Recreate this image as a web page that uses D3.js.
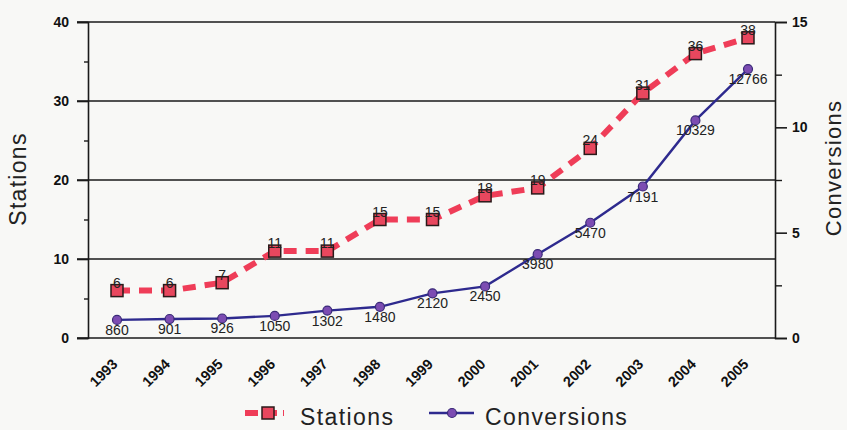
<!DOCTYPE html>
<html>
<head>
<meta charset="utf-8">
<script src="https://cdn.jsdelivr.net/npm/d3@7"></script>
<style>
  html, body { margin: 0; padding: 0; background: #f8f8f6; }
  svg { display: block; font-family: "Liberation Sans", Arial, sans-serif; }
</style>
</head>
<body>
<svg id="chart" width="847" height="430"></svg>
<script>
// Years on the category axis
const years = ["1993","1994","1995","1996","1997","1998","1999","2000","2001","2002","2003","2004","2005"];
// Number of stations per year (left axis)
const stations = [6, 6, 7, 11, 11, 15, 15, 18, 19, 24, 31, 36, 38];
// Number of conversions per year (right axis, shown in thousands)
const conversions = [860, 901, 926, 1050, 1302, 1480, 2120, 2450, 3980, 5470, 7191, 10329, 12766];
// Axis ticks
const leftTicks = [0, 10, 20, 30, 40];
const leftMinor = [5, 15, 25, 35];
const rightTicks = [0, 5, 10, 15];
const rightMinor = [2.5, 7.5, 12.5];

const svg = d3.select("#chart");
const plotLeft = 88, plotRight = 775, plotTop = 22, plotBottom = 338;

const x = d3.scalePoint().domain(years).range([117, 748]);
const yL = d3.scaleLinear().domain([0, 40]).range([plotBottom, plotTop]);
const yR = d3.scaleLinear().domain([0, 15]).range([plotBottom, plotTop]);

// Horizontal gridlines on the stations scale
svg.append("g").selectAll("line")
  .data(leftTicks)
  .join("line")
  .attr("x1", plotLeft - 11).attr("x2", plotRight)
  .attr("y1", d => yL(d)).attr("y2", d => yL(d))
  .attr("stroke", "#1a1a1a").attr("stroke-width", 1.6);

// Left axis
const gL = svg.append("g").attr("transform", `translate(${plotLeft},0)`);
gL.call(d3.axisLeft(yL).tickValues(leftTicks).tickSize(11).tickPadding(8))
  .call(g => g.select(".domain").attr("stroke", "#1a1a1a").attr("stroke-width", 1.6))
  .call(g => g.selectAll(".tick line").attr("stroke", "#1a1a1a").attr("stroke-width", 1.6))
  .call(g => g.selectAll("text").attr("font-size", 14).attr("font-weight", "bold").attr("fill", "#111")
    .attr("font-family", "'Liberation Sans', Arial, sans-serif"));
svg.append("g").attr("transform", `translate(${plotLeft},0)`)
  .call(d3.axisLeft(yL).tickValues(leftMinor).tickSize(4).tickFormat(""))
  .call(g => g.select(".domain").remove())
  .call(g => g.selectAll(".tick line").attr("stroke", "#1a1a1a").attr("stroke-width", 1.4));

// Right axis
const gR = svg.append("g").attr("transform", `translate(${plotRight},0)`);
gR.call(d3.axisRight(yR).tickValues(rightTicks).tickSize(12).tickPadding(5))
  .call(g => g.select(".domain").attr("stroke", "#1a1a1a").attr("stroke-width", 1.6))
  .call(g => g.selectAll(".tick line").attr("stroke", "#1a1a1a").attr("stroke-width", 1.6))
  .call(g => g.selectAll("text").attr("font-size", 14).attr("font-weight", "bold").attr("fill", "#111")
    .attr("font-family", "'Liberation Sans', Arial, sans-serif"));
svg.append("g").attr("transform", `translate(${plotRight},0)`)
  .call(d3.axisRight(yR).tickValues(rightMinor).tickSize(7).tickFormat(""))
  .call(g => g.select(".domain").remove())
  .call(g => g.selectAll(".tick line").attr("stroke", "#1a1a1a").attr("stroke-width", 1.4));

// Rotated year labels
const gX = svg.append("g").attr("transform", `translate(0,${plotBottom})`);
gX.call(d3.axisBottom(x).tickSize(0).tickPadding(0))
  .call(g => g.select(".domain").remove())
  .call(g => g.selectAll("text")
    .attr("font-size", 14.5).attr("font-weight", "bold").attr("fill", "#111")
    .attr("font-family", "'Liberation Sans', Arial, sans-serif")
    .attr("text-anchor", "end").attr("dy", null).attr("y", 0)
    .attr("transform", "translate(1,27) rotate(-45)"));

// Axis titles
svg.append("text")
  .attr("transform", "translate(26,179) rotate(-90)")
  .attr("text-anchor", "middle")
  .attr("font-size", 23).attr("letter-spacing", 1.3).attr("fill", "#222")
  .text("Stations");
svg.append("text")
  .attr("transform", "translate(841,168) rotate(-90)")
  .attr("text-anchor", "middle")
  .attr("font-size", 22).attr("letter-spacing", 1.3).attr("fill", "#222")
  .text("Conversions");

// Conversions series (thousands on the right scale)
const convLine = d3.line()
  .x((d, i) => x(years[i]))
  .y(d => yR(d / 1000));
svg.append("path")
  .datum(conversions)
  .attr("d", convLine)
  .attr("fill", "none").attr("stroke", "#2e2a8e").attr("stroke-width", 2.4);
svg.append("g").selectAll("circle")
  .data(conversions)
  .join("circle")
  .attr("cx", (d, i) => x(years[i]))
  .attr("cy", d => yR(d / 1000))
  .attr("r", 4.5)
  .attr("fill", "#7c4cb2").attr("stroke", "#3a2a78").attr("stroke-width", 1.2);
svg.append("g").selectAll("text")
  .data(conversions)
  .join("text")
  .attr("x", (d, i) => x(years[i]))
  .attr("y", d => yR(d / 1000) + 15)
  .attr("text-anchor", "middle")
  .attr("font-size", 14).attr("fill", "#222")
  .text(d => d);

// Stations series
const stLine = d3.line()
  .x((d, i) => x(years[i]))
  .y(d => yL(d));
svg.append("path")
  .datum(stations)
  .attr("d", stLine)
  .attr("fill", "none").attr("stroke", "#ef3d58").attr("stroke-width", 6)
  .attr("stroke-dasharray", "13,9");
svg.append("g").selectAll("rect")
  .data(stations)
  .join("rect")
  .attr("x", (d, i) => x(years[i]) - 6)
  .attr("y", d => yL(d) - 6)
  .attr("width", 12).attr("height", 12)
  .attr("fill", "#e8475e").attr("stroke", "#2a1a1a").attr("stroke-width", 1.5);
svg.append("g").selectAll("text")
  .data(stations)
  .join("text")
  .attr("x", (d, i) => x(years[i]))
  .attr("y", d => yL(d) - 3)
  .attr("text-anchor", "middle")
  .attr("font-size", 14).attr("fill", "#222")
  .text(d => d);

// Legend
const lg = svg.append("g");
lg.append("line")
  .attr("x1", 245).attr("x2", 284).attr("y1", 413).attr("y2", 413)
  .attr("stroke", "#ef3d58").attr("stroke-width", 6).attr("stroke-dasharray", "13,6");
lg.append("rect")
  .attr("x", 262).attr("y", 407).attr("width", 12).attr("height", 12)
  .attr("fill", "#e8475e").attr("stroke", "#2a1a1a").attr("stroke-width", 1.5);
lg.append("text")
  .attr("x", 300).attr("y", 425)
  .attr("font-size", 23).attr("letter-spacing", 1.4).attr("fill", "#222")
  .text("Stations");
lg.append("line")
  .attr("x1", 429).attr("x2", 474).attr("y1", 413).attr("y2", 413)
  .attr("stroke", "#2e2a8e").attr("stroke-width", 2.4);
lg.append("circle")
  .attr("cx", 452).attr("cy", 413).attr("r", 4.5)
  .attr("fill", "#7c4cb2").attr("stroke", "#3a2a78").attr("stroke-width", 1.2);
lg.append("text")
  .attr("x", 485).attr("y", 425)
  .attr("font-size", 23).attr("letter-spacing", 1.4).attr("fill", "#222")
  .text("Conversions");
</script>
</body>
</html>
